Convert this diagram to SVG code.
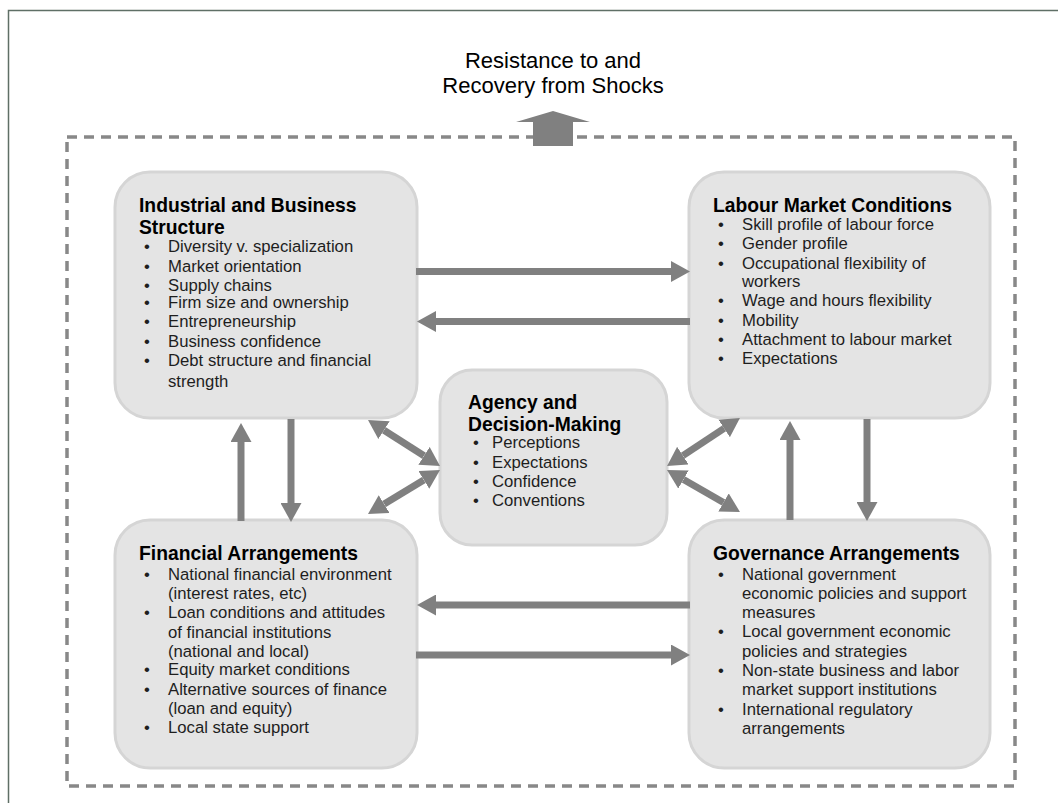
<svg xmlns="http://www.w3.org/2000/svg" width="1058" height="803" viewBox="0 0 1058 803">
<style>
.box{fill:#e4e4e4;stroke:#d5d5d5;stroke-width:3}
.t{font-family:"Liberation Sans",Arial,sans-serif;font-weight:bold;font-size:19.3px;fill:#000}
.b{font-family:"Liberation Sans",Arial,sans-serif;font-size:16.7px;fill:#1e1e1e}
.ttl{font-family:"Liberation Sans",Arial,sans-serif;font-size:22px;fill:#000;text-anchor:middle}
.c{stroke:#808080;stroke-width:7;fill:none}
.one{marker-end:url(#ah)}
.two{marker-start:url(#ah);marker-end:url(#ah)}
</style>
<defs>
<marker id="ah" viewBox="0 0 19 21" markerWidth="19" markerHeight="21" refX="0" refY="10.5" markerUnits="userSpaceOnUse" orient="auto-start-reverse">
<path d="M0,0 L19,10.5 L0,21 z" fill="#808080"/>
</marker>
</defs>
<rect x="0" y="0" width="1058" height="803" fill="#fff"/>
<rect x="8.5" y="10.5" width="1080" height="820" fill="none" stroke="#5f6f66" stroke-width="1.5"/>
<rect x="67" y="137" width="948" height="649" fill="none" stroke="#888" stroke-width="3.5" stroke-dasharray="10 7"/>

<g id="title">
<text class="ttl" x="553" y="68">Resistance to and</text>
<text class="ttl" x="553" y="93">Recovery from Shocks</text>
<polygon points="533,146 533,122 516,122 553,111 590,122 573,122 573,146" fill="#808080"/>
</g>

<g id="industrial">
<rect class="box" x="115" y="172" width="302" height="246" rx="35"/>
<text class="t" x="139" y="212">Industrial and Business</text>
<text class="t" x="139" y="234">Structure</text>
<g class="b">
<text x="144" y="252">•</text><text x="168" y="252">Diversity v. specialization</text>
<text x="144" y="272">•</text><text x="168" y="272">Market orientation</text>
<text x="144" y="291">•</text><text x="168" y="291">Supply chains</text>
<text x="144" y="308">•</text><text x="168" y="308">Firm size and ownership</text>
<text x="144" y="327">•</text><text x="168" y="327">Entrepreneurship</text>
<text x="144" y="347">•</text><text x="168" y="347">Business confidence</text>
<text x="144" y="366">•</text><text x="168" y="366">Debt structure and financial</text>
<text x="168" y="387">strength</text>
</g>
</g>

<g id="labour">
<rect class="box" x="689" y="172" width="301" height="246" rx="35"/>
<text class="t" x="713" y="212">Labour Market Conditions</text>
<g class="b">
<text x="718" y="230">•</text><text x="742" y="230">Skill profile of labour force</text>
<text x="718" y="249">•</text><text x="742" y="249">Gender profile</text>
<text x="718" y="269">•</text><text x="742" y="269">Occupational flexibility of</text>
<text x="742" y="287">workers</text>
<text x="718" y="306">•</text><text x="742" y="306">Wage and hours flexibility</text>
<text x="718" y="326">•</text><text x="742" y="326">Mobility</text>
<text x="718" y="345">•</text><text x="742" y="345">Attachment to labour market</text>
<text x="718" y="364">•</text><text x="742" y="364">Expectations</text>
</g>
</g>

<g id="agency">
<rect class="box" x="440" y="370" width="227" height="175" rx="32"/>
<text class="t" x="468" y="409">Agency and</text>
<text class="t" x="468" y="431">Decision-Making</text>
<g class="b">
<text x="473" y="448">•</text><text x="492" y="448">Perceptions</text>
<text x="473" y="468">•</text><text x="492" y="468">Expectations</text>
<text x="473" y="487">•</text><text x="492" y="487">Confidence</text>
<text x="473" y="506">•</text><text x="492" y="506">Conventions</text>
</g>
</g>

<g id="financial">
<rect class="box" x="115" y="520" width="302" height="248" rx="35"/>
<text class="t" x="139" y="560">Financial Arrangements</text>
<g class="b">
<text x="144" y="580">•</text><text x="168" y="580">National financial environment</text>
<text x="168" y="599">(interest rates, etc)</text>
<text x="144" y="618">•</text><text x="168" y="618">Loan conditions and attitudes</text>
<text x="168" y="638">of financial institutions</text>
<text x="168" y="657">(national and local)</text>
<text x="144" y="675">•</text><text x="168" y="675">Equity market conditions</text>
<text x="144" y="695">•</text><text x="168" y="695">Alternative sources of finance</text>
<text x="168" y="714">(loan and equity)</text>
<text x="144" y="733">•</text><text x="168" y="733">Local state support</text>
</g>
</g>

<g id="governance">
<rect class="box" x="689" y="520" width="301" height="248" rx="35"/>
<text class="t" x="713" y="560">Governance Arrangements</text>
<g class="b">
<text x="718" y="580">•</text><text x="742" y="580">National government</text>
<text x="742" y="599">economic policies and support</text>
<text x="742" y="618">measures</text>
<text x="718" y="637">•</text><text x="742" y="637">Local government economic</text>
<text x="742" y="657">policies and strategies</text>
<text x="718" y="676">•</text><text x="742" y="676">Non-state business and labor</text>
<text x="742" y="695">market support institutions</text>
<text x="718" y="715">•</text><text x="742" y="715">International regulatory</text>
<text x="742" y="734">arrangements</text>
</g>
</g>

<g id="connectors">
<line class="c one" x1="416" y1="271.5" x2="671" y2="271.5"/>
<line class="c one" x1="690" y1="321.5" x2="436" y2="321.5"/>
<line class="c one" x1="690" y1="605" x2="436" y2="605"/>
<line class="c one" x1="416" y1="655" x2="671" y2="655"/>
<line class="c one" x1="241" y1="521" x2="241" y2="442"/>
<line class="c one" x1="291" y1="419" x2="291" y2="503"/>
<line class="c one" x1="790" y1="520" x2="790" y2="440"/>
<line class="c one" x1="867" y1="419" x2="867" y2="502"/>
<line class="c two" x1="384" y1="430.2" x2="424" y2="455.8"/>
<line class="c two" x1="384.2" y1="504.1" x2="423.8" y2="479.9"/>
<line class="c two" x1="724.1" y1="428.4" x2="682.9" y2="455.6"/>
<line class="c two" x1="683.5" y1="479.5" x2="723.5" y2="502.5"/>
</g>
</svg>
